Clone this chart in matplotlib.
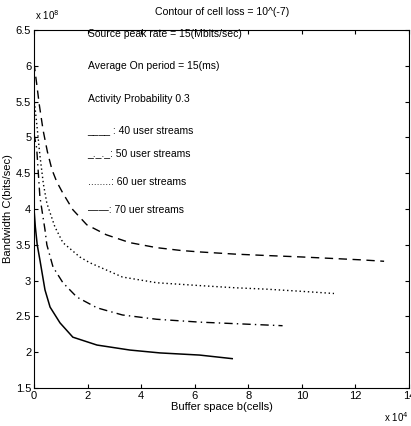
import matplotlib
matplotlib.use('Agg')
import matplotlib.pyplot as plt

plt.rcParams['font.family'] = ['Liberation Sans', 'DejaVu Sans']

# buffer space in units of 1e4 cells, bandwidth in units of 1e8 bits/sec
b_dash = [0.0, 0.1, 0.2, 0.34, 0.5, 0.67, 0.85, 1.08, 1.45, 1.97, 2.7, 3.58, 4.58, 5.5, 6.2, 7.5, 8.7, 10.0, 11.1, 12.2, 13.07]
c_dash = [6.04, 5.75, 5.45, 5.1, 4.8, 4.55, 4.38, 4.22, 3.99, 3.78, 3.64, 3.53, 3.46, 3.42, 3.40, 3.37, 3.35, 3.33, 3.31, 3.29, 3.27]

b_dot = [0.0, 0.1, 0.22, 0.35, 0.48, 0.78, 1.08, 1.71, 2.08, 3.3, 4.58, 6.2, 7.5, 8.7, 10.0, 11.2]
c_dot = [5.55, 5.2, 4.75, 4.35, 4.08, 3.75, 3.53, 3.33, 3.25, 3.05, 2.97, 2.93, 2.90, 2.88, 2.85, 2.82]

b_dashdot = [0.0, 0.1, 0.22, 0.41, 0.48, 0.71, 1.08, 1.6, 2.35, 3.3, 4.58, 6.18, 7.42, 9.28]
c_dashdot = [5.05, 4.85, 4.17, 3.71, 3.5, 3.19, 2.97, 2.77, 2.62, 2.52, 2.46, 2.42, 2.40, 2.37]

b_solid = [0.0, 0.05, 0.12, 0.22, 0.41, 0.6, 0.97, 1.45, 2.35, 3.58, 4.7, 6.18, 7.4]
c_solid = [4.0, 3.75, 3.5, 3.29, 2.87, 2.63, 2.41, 2.21, 2.10, 2.03, 1.99, 1.96, 1.91]

notes = ['Source peak rate = 15(Mbits/sec)',
         'Average On period = 15(ms)',
         'Activity Probability 0.3',
         '____ : 40 user streams',
         '_._._: 50 user streams',
         '........: 60 uer streams',
         '——: 70 uer streams']
note_y = [6.44, 6.0, 5.54, 5.1, 4.78, 4.38, 3.99]

fig = plt.figure(figsize=(4.11, 4.26), dpi=100)
ax = fig.add_axes([34/411, 1-388/426, 375/411, 358/426])

ax.plot(b_dash, c_dash, color='black', lw=1.0, linestyle=(0, (6, 4)))
ax.plot(b_dot, c_dot, color='black', lw=1.0, linestyle=(0, (1, 2)))
ax.plot(b_dashdot, c_dashdot, color='black', lw=1.0, linestyle=(0, (6, 3, 1, 3)))
ax.plot(b_solid, c_solid, color='black', lw=1.1)

for t, y in zip(notes, note_y):
    ax.text(2.0, y, t, fontsize=7.5, va='center', ha='left')

ax.set_xlim(0, 14)
ax.set_ylim(1.5, 6.5)
ax.set_xticks(range(0, 15, 2))
ax.set_yticks([1.5, 2, 2.5, 3, 3.5, 4, 4.5, 5, 5.5, 6, 6.5])
ax.set_yticklabels(['1.5', '2', '2.5', '3', '3.5', '4', '4.5', '5', '5.5', '6', '6.5'])
ax.tick_params(direction='in', top=True, right=True, labelsize=8, length=3, pad=2)

ax.set_xlabel('Buffer space b(cells)', fontsize=8, labelpad=1)
ax.set_ylabel('Bandwidth C(bits/sec)', fontsize=8, labelpad=2)

fig.text(222/411, 1-12/426, 'Contour of cell loss = 10^(-7)', fontsize=7.6, ha='center', va='center')
fig.text(35/411, 1-15/426, r'x 10$^8$', fontsize=7, ha='left', va='center')
fig.text(384/411, 1-417/426, r'x 10$^4$', fontsize=7, ha='left', va='center')

fig.savefig('out.png', dpi=100)
